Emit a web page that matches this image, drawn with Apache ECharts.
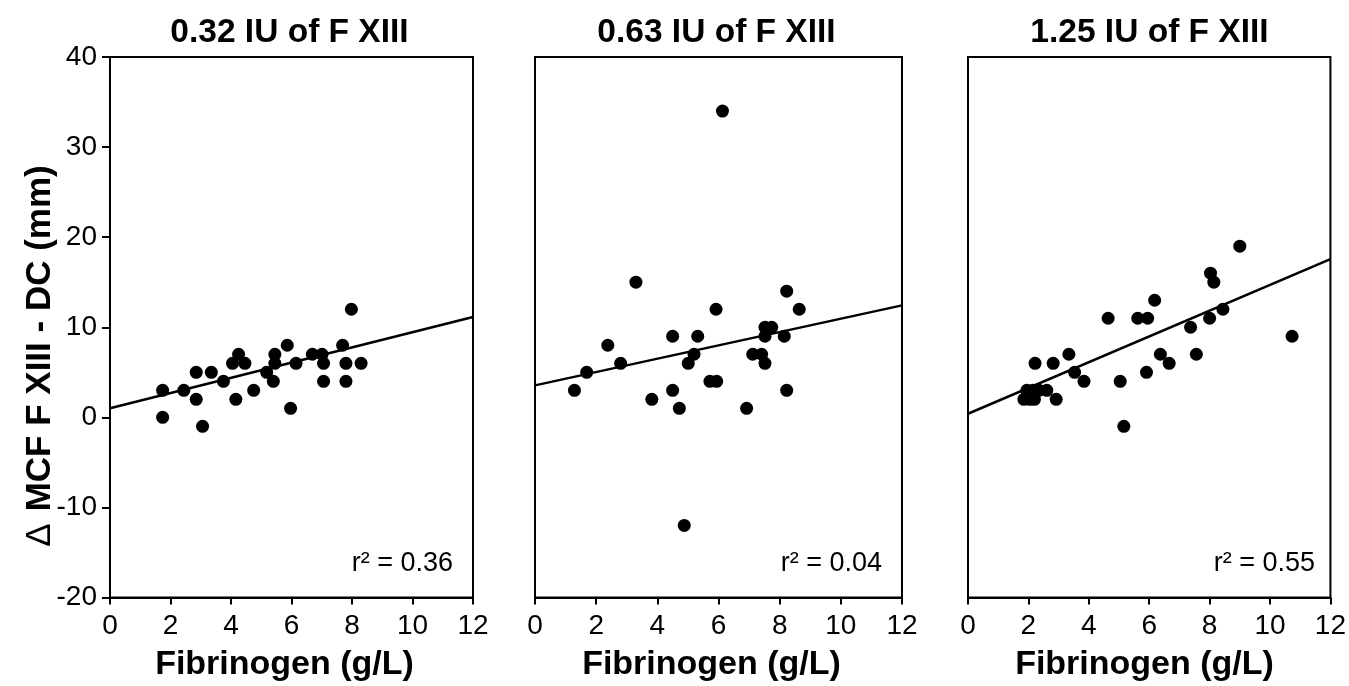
<!DOCTYPE html>
<html>
<head>
<meta charset="utf-8">
<script src="https://cdn.jsdelivr.net/npm/echarts@6/dist/echarts.min.js"></script>
<style>
html,body{margin:0;padding:0;background:#fff;}
#chart{width:1349px;height:686px;}
</style>
</head>
<body>
<div id="chart"></div>
<script>
// ---- data ----
const panelTitles = ['0.32 IU of F XIII', '0.63 IU of F XIII', '1.25 IU of F XIII'];
const r2Labels = ['r\u00B2 = 0.36', 'r\u00B2 = 0.04', 'r\u00B2 = 0.55'];
const xTicks = [0, 2, 4, 6, 8, 10, 12];
const yTicks = [-20, -10, 0, 10, 20, 30, 40];
const xAxisName = 'Fibrinogen (g/L)';
const yAxisSymbol = '\u0394';
const yAxisName = 'MCF F XIII - DC (mm)';

const p1X = [1.74, 1.74, 2.44, 2.85, 2.85, 3.06, 3.35, 3.75, 4.05, 4.25, 4.46, 4.16, 4.75, 5.18, 5.40, 5.45, 5.45, 5.86, 6.15, 5.97, 6.69, 7.01, 7.06, 7.06, 7.69, 7.80, 7.80, 7.98, 8.30];
const p1Y = [3, 0, 3, 5, 2, -1, 5, 4, 6, 7, 6, 2, 3, 5, 4, 6, 7, 8, 6, 1, 7, 7, 6, 4, 8, 6, 4, 12, 6];

const p2X = [3.30, 8.23, 8.64, 5.92, 4.50, 5.32, 2.38, 7.52, 7.74, 7.52, 8.15, 5.20, 5.01, 2.80, 1.69, 1.29, 7.12, 7.41, 7.52, 5.72, 5.94, 4.50, 3.82, 4.72, 6.92, 8.23, 4.88, 6.13];
const p2Y = [15, 14, 12, 12, 9, 9, 8, 10, 10, 9, 9, 7, 6, 6, 5, 3, 7, 7, 6, 4, 4, 3, 2, 1, 1, 3, -12, 34];

const p3X = [9.00, 8.03, 8.14, 6.18, 4.64, 5.62, 5.95, 8.44, 8.00, 7.37, 10.73, 6.37, 6.66, 7.56, 5.91, 5.04, 5.16, 3.53, 3.84, 3.34, 2.82, 2.22, 2.92, 2.61, 1.85, 2.05, 2.20, 1.95, 2.15, 2.35];
const p3Y = [19, 16, 15, 13, 11, 11, 11, 12, 11, 10, 9, 7, 6, 7, 5, 4, -1, 5, 4, 7, 6, 6, 2, 3, 2, 2, 2, 3, 3, 3];

const fitIntercepts = [1.0, 3.55, 0.4];
const fitSlopes = [0.845, 0.74, 1.43];

// ---- build chart ----
const panelsX = [p1X, p2X, p3X];
const panelsY = [p1Y, p2Y, p3Y];
const gridRects = [
  {left: 110, top: 57, width: 363, height: 540.5},
  {left: 535, top: 57, width: 367, height: 540.5},
  {left: 968, top: 57, width: 367, height: 540.5}
];
const FONT = '"Liberation Sans", Arial, Helvetica, sans-serif';
const xMin = xTicks[0], xMax = xTicks[xTicks.length - 1], xStep = xTicks[1] - xTicks[0];
const yMin = yTicks[0], yMax = yTicks[yTicks.length - 1], yStep = yTicks[1] - yTicks[0];

const grids = [], xAxes = [], yAxes = [], series = [], titles = [], graphics = [];
gridRects.forEach((g, i) => {
  const cx = g.left + g.width / 2 - 7;
  grids.push(Object.assign({show: true, borderColor: '#000', borderWidth: 2, backgroundColor: '#fff', containLabel: false}, g));
  xAxes.push({
    type: 'value', gridIndex: i, min: xMin, max: xMax, interval: xStep,
    splitLine: {show: false},
    axisLine: {show: true, onZero: false, lineStyle: {color: '#000', width: 2}},
    axisTick: {show: true, inside: false, length: 7, lineStyle: {color: '#000', width: 2}},
    axisLabel: {show: true, color: '#000', fontSize: 28, fontFamily: FONT, margin: 15}
  });
  yAxes.push({
    type: 'value', gridIndex: i, min: yMin, max: yMax, interval: yStep,
    splitLine: {show: false},
    axisLine: {show: true, onZero: false, lineStyle: {color: '#000', width: 2}},
    axisTick: {show: i === 0, inside: false, length: 8, lineStyle: {color: '#000', width: 2}},
    axisLabel: {show: i === 0, color: '#000', fontSize: 28, fontFamily: FONT, margin: 13}
  });
  const pts = panelsX[i].map((x, k) => [x, panelsY[i][k]]);
  series.push({
    type: 'scatter', xAxisIndex: i, yAxisIndex: i, data: pts,
    symbol: 'circle', symbolSize: 13, itemStyle: {color: '#000', opacity: 1}, z: 3,
    emphasis: {disabled: true}
  });
  series.push({
    type: 'line', xAxisIndex: i, yAxisIndex: i, symbol: 'none', silent: true,
    data: [[xMin, fitIntercepts[i] + fitSlopes[i] * xMin], [xMax, fitIntercepts[i] + fitSlopes[i] * xMax]],
    lineStyle: {color: '#000', width: 2.5}, z: 2
  });
  titles.push({
    text: panelTitles[i], left: cx, top: 11, textAlign: 'center',
    textStyle: {color: '#000', fontSize: 33.5, fontWeight: 'bold', fontFamily: FONT}
  });
  graphics.push({
    type: 'text', x: g.left + g.width - 20, y: 564,
    style: {text: r2Labels[i], fill: '#000', font: '27px ' + FONT, align: 'right', verticalAlign: 'middle'}
  });
  graphics.push({
    type: 'text', x: cx, y: 665,
    style: {text: xAxisName, fill: '#000', font: 'bold 34px ' + FONT, align: 'center', verticalAlign: 'middle'}
  });
});
graphics.push({
  type: 'text', x: 40, y: 356, rotation: Math.PI / 2,
  style: {
    text: '{d|' + yAxisSymbol + '}{b|' + yAxisName + '}',
    align: 'center', verticalAlign: 'middle',
    rich: {
      d: {fill: '#000', fontSize: 35, fontFamily: FONT, fontWeight: 'normal', padding: [0, 12, 0, 0]},
      b: {fill: '#000', fontSize: 35, fontFamily: FONT, fontWeight: 'bold'}
    }
  }
});

const chart = echarts.init(document.getElementById('chart'), null, {renderer: 'canvas'});
chart.setOption({
  animation: false,
  backgroundColor: '#fff',
  title: titles,
  grid: grids,
  xAxis: xAxes,
  yAxis: yAxes,
  series: series,
  graphic: graphics
});
</script>
</body>
</html>
